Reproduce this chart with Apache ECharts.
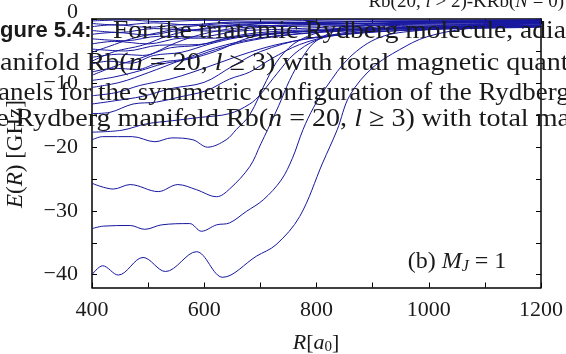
<!DOCTYPE html>
<html>
<head>
<meta charset="utf-8">
<script src="https://cdn.jsdelivr.net/npm/echarts@6/dist/echarts.min.js"></script>
<style>
  html, body { margin: 0; padding: 0; background: #fff; }
  #chart { width: 566px; height: 354px; }
</style>
</head>
<body>
<div id="chart"></div>
<script>
// Adiabatic potential curves, points are [R in a0, E in GHz]
const bound1 = [[400,-40.0],[419,-38.6],[447,-40.05],[491,-37.3],[531,-39.5],[586,-36.4],[633,-40.4],[693,-37.1],[728,-35.3],[770,-30.9],[811,-22.5],[837,-17.3],[859,-12.0],[900,-7.6],[948,-4.8],[996,-2.8],[1070,-1.5],[1200,-0.6]];
const bound2 = [[400,-32.8],[420,-32.4],[468,-32.3],[494,-32.9],[524,-32.2],[574,-32.0],[595,-33.2],[622,-32.2],[645,-31.9],[675,-30.1],[705,-28.3],[737,-25.2],[757,-21.8],[776,-17.3],[795,-13.8],[817,-10.7],[859,-6.0],[912,-2.9],[983,-1.8],[1200,-0.4]];
const bound3 = [[400,-25.7],[438,-26.6],[468,-25.9],[518,-27.0],[553,-25.9],[586,-26.7],[622,-27.8],[645,-26.6],[681,-23.1],[701,-19.5],[713,-17.3],[733,-13.5],[752,-9.6],[775,-6.0],[800,-3.4],[859,-1.2],[1000,-0.5],[1200,-0.2]];
const bound4 = [[400,-18.9],[419,-18.4],[472,-18.4],[512,-19.2],[542,-18.6],[580,-18.9],[606,-20.05],[639,-18.9],[657,-17.3],[681,-15.0],[711,-9.6],[735,-6.0],[770,-3.3],[830,-1.6],[950,-0.8],[1200,-0.3]];
const bound5 = [[400,-17.7],[453,-17.4],[497,-16.4],[544,-15.9],[592,-15.4],[645,-14.8],[681,-13.3],[700,-11.8],[730,-8.5],[760,-5.5],[800,-3.3],[860,-2.0],[1000,-1.1],[1200,-0.5]];
const bound6 = [[400,-14.8],[432,-14.6],[473,-13.3],[515,-13.0],[556,-12.2],[604,-11.2],[645,-9.4],[681,-8.3],[720,-6.2],[770,-4.0],[830,-2.6],[950,-1.5],[1200,-0.7]];
const bound7 = [[400,-12.0],[444,-11.5],[485,-10.4],[539,-9.4],[580,-8.3],[622,-7.0],[681,-5.2],[740,-3.8],[820,-2.7],[950,-1.8],[1200,-0.9]];
const bound8 = [[400,-9.6],[438,-9.1],[485,-8.1],[527,-7.0],[574,-6.25],[622,-5.0],[681,-2.9],[740,-2.2],[850,-1.7],[1000,-1.3],[1200,-1.0]];
const bound9 = [[400,-13.3],[440,-12.8],[490,-12.1],[540,-10.9],[600,-9.9],[650,-7.4],[700,-5.1],[780,-3.1],[900,-2.0],[1200,-1.2]];
const bound10 = [[400,-10.7],[450,-9.9],[500,-8.4],[560,-6.4],[620,-4.5],[690,-3.1],[780,-2.2],[900,-1.6],[1200,-1.1]];

// Curves of the degenerate manifold just below the threshold
const band1 = [[400,-0.3],[460,-0.15],[520,-0.4],[600,-0.2],[700,-0.35],[850,-0.15],[1000,-0.2],[1200,-0.1]];
const band2 = [[400,-0.7],[450,-0.95],[510,-0.6],[570,-0.9],[650,-0.5],[760,-0.6],[900,-0.35],[1200,-0.25]];
const band3 = [[400,-1.2],[440,-0.9],[500,-1.3],[560,-0.9],[630,-1.1],[720,-0.7],[850,-0.7],[1000,-0.45],[1200,-0.4]];
const band4 = [[400,-1.8],[450,-2.1],[510,-1.5],[580,-1.7],[650,-1.1],[740,-1.0],[900,-0.7],[1200,-0.55]];
const band5 = [[400,-2.4],[440,-2.1],[500,-2.5],[560,-1.8],[630,-1.9],[700,-1.3],[800,-1.1],[1000,-0.8],[1200,-0.7]];
const band6 = [[400,-3.1],[460,-3.4],[520,-2.7],[590,-2.8],[660,-1.9],[740,-1.6],[880,-1.1],[1200,-0.8]];
const band7 = [[400,-3.9],[440,-3.5],[500,-3.9],[560,-3.0],[620,-3.0],[690,-2.2],[780,-1.7],[950,-1.2],[1200,-0.95]];
const band8 = [[400,-4.7],[460,-5.0],[520,-4.1],[590,-4.0],[650,-2.9],[720,-2.4],[820,-1.7],[1000,-1.3],[1200,-1.05]];
const band9 = [[400,-6.0],[450,-5.5],[490,-5.7],[540,-4.5],[590,-4.1],[640,-3.0],[710,-2.3],[800,-1.8],[1000,-1.35],[1200,-1.15]];
const band10 = [[400,-7.0],[430,-6.6],[470,-6.9],[510,-5.7],[560,-5.2],[610,-3.9],[660,-2.9],[730,-2.2],[850,-1.7],[1200,-1.2]];
const band11 = [[400,-8.3],[440,-7.7],[480,-7.9],[520,-6.8],[570,-6.2],[620,-4.8],[670,-3.6],[740,-2.6],[850,-1.9],[1200,-1.3]];
const band12 = [[400,-8.8],[450,-7.1],[500,-5.7],[550,-3.7],[600,-2.3],[660,-1.4],[760,-0.9],[1200,-0.5]];
const band13 = [[400,-6.6],[440,-5.1],[490,-4.1],[540,-2.5],[590,-1.6],[650,-0.9],[800,-0.5],[1200,-0.3]];
const band14 = [[400,-5.2],[430,-4.3],[470,-3.1],[520,-2.1],[580,-1.1],[680,-0.6],[1200,-0.35]];

const xTicks = [400,500,600,700,800,900,1000,1100,1200];
const xLabels = [400,600,800,1000,1200];
const yTicks = [-40,-35,-30,-25,-20,-15,-10,-5,0];
const yLabels = [-40,-30,-20,-10,0];

const curves = [bound1,bound2,bound3,bound4,bound5,bound6,bound7,bound8,bound9,bound10,
  band1,band2,band3,band4,band5,band6,band7,band8,band9,band10,band11,band12,band13,band14];

const SERIF = 'Liberation Serif';
const INK = '#1a1a1a';
const LINE = '#1717a0';

const chart = echarts.init(document.getElementById('chart'), null, { renderer: 'canvas' });

function axisX(pos, labels) {
  return {
    type: 'value', min: 400, max: 1200, position: pos,
    axisLine: { onZero: false, lineStyle: { color: '#000', width: 1.5 } },
    axisTick: { inside: true, length: 5, customValues: xTicks, lineStyle: { color: '#000', width: 1 } },
    axisLabel: labels ? {
      customValues: xLabels, fontFamily: SERIF, fontSize: 22, color: INK, margin: 12,
      formatter: v => String(v)
    } : { show: false },
    splitLine: { show: false }
  };
}
function axisY(pos, labels) {
  return {
    type: 'value', min: -42, max: 0, position: pos,
    axisLine: { onZero: false, lineStyle: { color: '#000', width: 1.5 } },
    axisTick: { inside: true, length: 5, customValues: yTicks, lineStyle: { color: '#000', width: 1 } },
    axisLabel: labels ? {
      customValues: yLabels, fontFamily: SERIF, fontSize: 22, color: INK, margin: 14,
      // the zero label sits a little above the frame
      formatter: v => (v < 0 ? '\u2212' + Math.abs(v) : '{top|' + v + '}'),
      rich: { top: { fontFamily: SERIF, fontSize: 22, color: INK, padding: [0, 0, 14, 0] } }
    } : { show: false },
    splitLine: { show: false }
  };
}

const italic = { fontFamily: SERIF, fontSize: 26, fontStyle: 'italic', fill: INK };

// one line of the running caption text laid over the plot
function captionLine(x, y, sx, text) {
  return {
    type: 'text', x: x, y: y, z: 100, scaleX: sx,
    style: {
      text: text, rich: { i: italic }, verticalAlign: 'middle', align: 'left',
      fontFamily: SERIF, fontSize: 26, fill: INK
    }
  };
}

chart.setOption({
  animation: false,
  backgroundColor: '#fff',
  grid: { left: 92, right: 24, top: 19, bottom: 66.5, containLabel: false },
  xAxis: [axisX('bottom', true), axisX('top', false)],
  yAxis: [axisY('left', true), axisY('right', false)],
  series: curves.map(c => ({
    type: 'line', data: c, xAxisIndex: 0, yAxisIndex: 0,
    showSymbol: false, smooth: 0.35, silent: true, clip: true,
    lineStyle: { color: LINE, width: 1 }
  })),
  graphic: [
    {
      type: 'text', x: 16, y: 154, rotation: Math.PI / 2, z: 50,
      style: {
        text: '{i|E}({i|R}) [GHz]', fontFamily: SERIF, fontSize: 23, fill: INK,
        align: 'center', verticalAlign: 'middle',
        rich: { i: { fontFamily: SERIF, fontSize: 23, fontStyle: 'italic', fill: INK } }
      }
    },
    {
      type: 'text', x: 316, y: 343, z: 50,
      style: {
        text: '{i|R}[{i|a}{s|0}]', fontFamily: SERIF, fontSize: 22, fill: INK,
        align: 'center', verticalAlign: 'middle',
        rich: {
          i: { fontFamily: SERIF, fontSize: 22, fontStyle: 'italic', fill: INK },
          s: { fontFamily: SERIF, fontSize: 15, fill: INK, padding: [8, 0, 0, 0] }
        }
      }
    },
    {
      type: 'text', x: 457, y: 262, z: 50,
      style: {
        text: '(b) {i|M}{s|J} = 1', fontFamily: SERIF, fontSize: 24, fill: INK,
        align: 'center', verticalAlign: 'middle',
        rich: {
          i: { fontFamily: SERIF, fontSize: 24, fontStyle: 'italic', fill: INK },
          s: { fontFamily: SERIF, fontSize: 16, fontStyle: 'italic', fill: INK, padding: [9, 0, 0, 0] }
        }
      }
    },
    {
      type: 'text', x: 564, y: 2, z: 50,
      style: {
        text: 'Rb(20, {i|l} > 2)-KRb({i|N} = 0)', fontFamily: SERIF, fontSize: 19, fill: INK,
        align: 'right', verticalAlign: 'middle',
        rich: { i: { fontFamily: SERIF, fontSize: 19, fontStyle: 'italic', fill: INK } }
      }
    },
    {
      type: 'text', x: 0, y: 31, z: 100,
      style: { text: 'gure 5.4:', fontFamily: 'Liberation Sans', fontWeight: 'bold', fontSize: 22, fill: INK, verticalAlign: 'middle', align: 'left' }
    },
    captionLine(113, 31, 1.06, 'For the triatomic Rydberg molecule, adia'),
    captionLine(0, 63, 1.08, 'anifold Rb({i|n} = 20, {i|l} \u2265 3) with total magnetic quant'),
    captionLine(-2, 93, 1.035, 'anels for the symmetric configuration of the Rydberg'),
    captionLine(-4, 119, 1.08, 'e Rydberg manifold Rb({i|n} = 20, {i|l} \u2265 3) with total ma')
  ]
});
</script>
</body>
</html>
